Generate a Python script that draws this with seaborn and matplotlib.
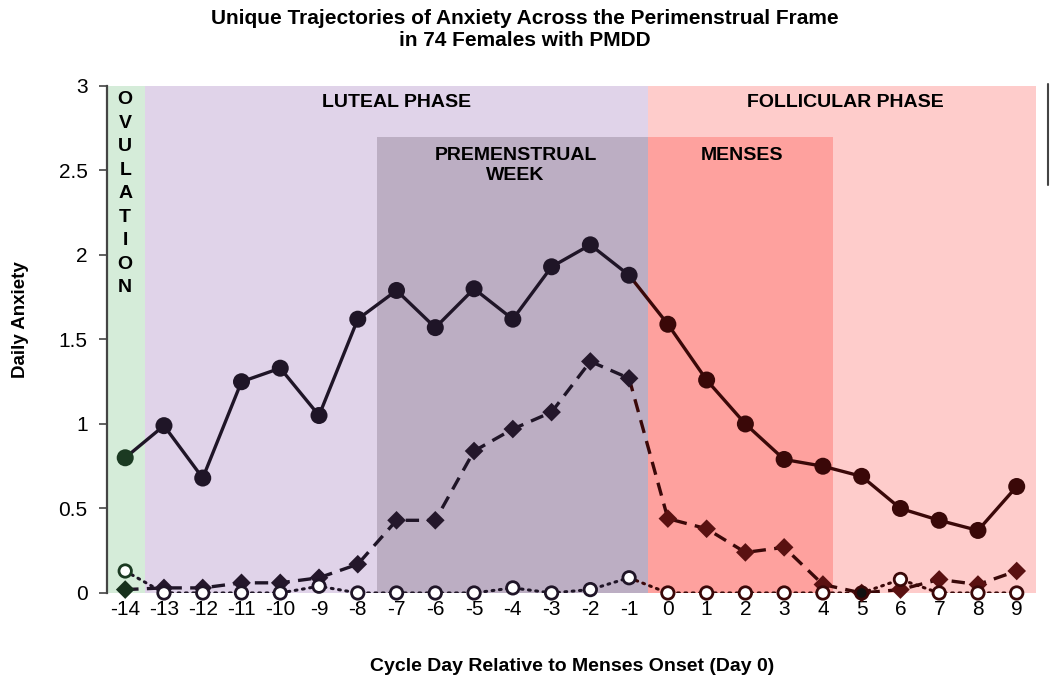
import numpy as np
import pandas as pd
import seaborn as sns
import matplotlib.pyplot as plt
from matplotlib.lines import Line2D

sns.set_theme(style="white")
plt.rcParams['font.family'] = ['Liberation Sans', 'DejaVu Sans']
plt.rcParams['text.color'] = 'black'
plt.rcParams['axes.labelcolor'] = 'black'
plt.rcParams['xtick.color'] = 'black'
plt.rcParams['ytick.color'] = 'black'

days = list(range(-14, 10))
high_anx = [0.80, 0.99, 0.68, 1.25, 1.33, 1.05, 1.62, 1.79, 1.57, 1.80, 1.62, 1.93,
            2.06, 1.88, 1.59, 1.26, 1.00, 0.79, 0.75, 0.69, 0.50, 0.43, 0.37, 0.63]
mid_anx = [0.02, 0.03, 0.03, 0.06, 0.06, 0.09, 0.17, 0.43, 0.43, 0.84, 0.97, 1.07,
           1.37, 1.27, 0.44, 0.38, 0.24, 0.27, 0.05, 0.00, 0.02, 0.08, 0.05, 0.13]
low_anx = [0.13, 0.00, 0.00, 0.00, 0.00, 0.04, 0.00, 0.00, 0.00, 0.00, 0.03, 0.00,
           0.02, 0.09, 0.00, 0.00, 0.00, 0.00, 0.00, 0.00, 0.08, 0.00, 0.00, 0.00]

df = pd.DataFrame({'day': days, 'high': high_anx, 'mid': mid_anx, 'low': low_anx})
df['phase'] = np.where(df['day'] == -14, 'ovulation',
                       np.where(df['day'] < 0, 'luteal', 'follicular'))

# dark marker colours for each phase
solid_pal = {'ovulation': '#1b3a22', 'luteal': '#1f1527', 'follicular': '#3a0808'}
dash_pal = {'ovulation': '#16301c', 'luteal': '#24172b', 'follicular': '#5a1111'}
line_col = {'luteal': '#1f1527', 'follicular': '#3a0808'}

fig = plt.figure(figsize=(10.5, 6.79), dpi=100)
ax = fig.add_axes([0.1019, 0.1267, 0.8867, 0.7467])

# background bands
ax.axvspan(-14.5, -13.5, color='#d5ecd9', lw=0, zorder=0)
ax.axvspan(-13.5, -0.5, color='#e0d3e9', lw=0, zorder=0)
ax.axvspan(-0.5, 9.5, color='#fecccb', lw=0, zorder=0)
ax.fill_between([-7.5, -0.5], 0, 2.7, color='#bcaec3', lw=0, zorder=0.5)
ax.fill_between([-0.5, 4.25], 0, 2.7, color='#fea19e', lw=0, zorder=0.5)

# lines: luteal part and follicular part (shared point at day -1)
lut = df[df['day'] <= -1]
fol = df[df['day'] >= -1]
for part, key in [(lut, 'luteal'), (fol, 'follicular')]:
    c = line_col[key]
    sns.lineplot(data=part, x='day', y='high', color=c, lw=2.4, ax=ax, zorder=3)
    sns.lineplot(data=part, x='day', y='mid', color=c, lw=2.4, ax=ax, zorder=3,
                 dashes=False, linestyle=(0, (4, 2.5)))
    sns.lineplot(data=part, x='day', y='low', color=c, lw=2.2, ax=ax, zorder=3,
                 linestyle=(0, (0.6, 1.8)), dash_capstyle='round')

sns.scatterplot(data=df, x='day', y='high', hue='phase', palette=solid_pal, s=150,
                marker='o', linewidth=0, legend=False, ax=ax, zorder=4, clip_on=False)
sns.scatterplot(data=df, x='day', y='mid', hue='phase', palette=dash_pal, s=90,
                marker='D', linewidth=0, legend=False, ax=ax, zorder=4, clip_on=False)
low_face = ['#111111' if d == 5 else 'white' for d in days]
low_edge = [solid_pal[p] for p in df['phase']]
sns.scatterplot(data=df, x='day', y='low', s=80, marker='o', c=low_face,
                edgecolor=low_edge, linewidth=2, legend=False, ax=ax, zorder=5, clip_on=False)

# region labels
lab = dict(ha='center', va='center', fontsize=14, fontweight='bold')
ax.text(-14, 2.97, "O\nV\nU\nL\nA\nT\nI\nO\nN", ha='center', va='top', fontsize=14,
        fontweight='bold', linespacing=1.5)
ax.text(-7.0, 2.905, "LUTEAL PHASE", **lab)
ax.text(4.58, 2.905, "FOLLICULAR PHASE", **lab)
ax.text(-3.93, 2.53, "PREMENSTRUAL\nWEEK", linespacing=1.2, **lab)
ax.text(1.9, 2.59, "MENSES", **lab)

ax.set_xlim(-14.47, 9.55)
ax.set_ylim(0, 3)
ax.set_xticks(days)
ax.set_xticklabels([str(d) for d in days])
ax.set_yticks([0, 0.5, 1, 1.5, 2, 2.5, 3])
ax.set_yticklabels(['0', '0.5', '1', '1.5', '2', '2.5', '3'])
ax.tick_params(axis='x', length=0, labelsize=15, pad=5)
ax.tick_params(axis='y', left=True, length=6, width=1.2, color='#444444', labelsize=15, pad=8)
for s in ['top', 'right', 'bottom']:
    ax.spines[s].set_visible(False)
ax.spines['left'].set_color('#444444')
ax.spines['left'].set_linewidth(1.6)
ax.set_xlabel("Cycle Day Relative to Menses Onset (Day 0)", fontsize=14, fontweight='bold',
              labelpad=28)
ax.set_ylabel("Daily Anxiety", fontsize=13.5, fontweight='bold', labelpad=16)
ax.yaxis.set_label_coords(-0.084, 0.54)

fig.text(0.5, 1 - 30 / 679,
         "Unique Trajectories of Anxiety Across the Perimenstrual Frame\nin 74 Females with PMDD",
         ha='center', va='center', fontsize=15, fontweight='bold', linespacing=1.2)

# stray vertical bar at the right edge
fig.add_artist(Line2D([1048 / 1050, 1048 / 1050], [1 - 84 / 679, 1 - 185 / 679],
                      color='#444444', lw=1.5))

fig.savefig("out.png", dpi=100)
